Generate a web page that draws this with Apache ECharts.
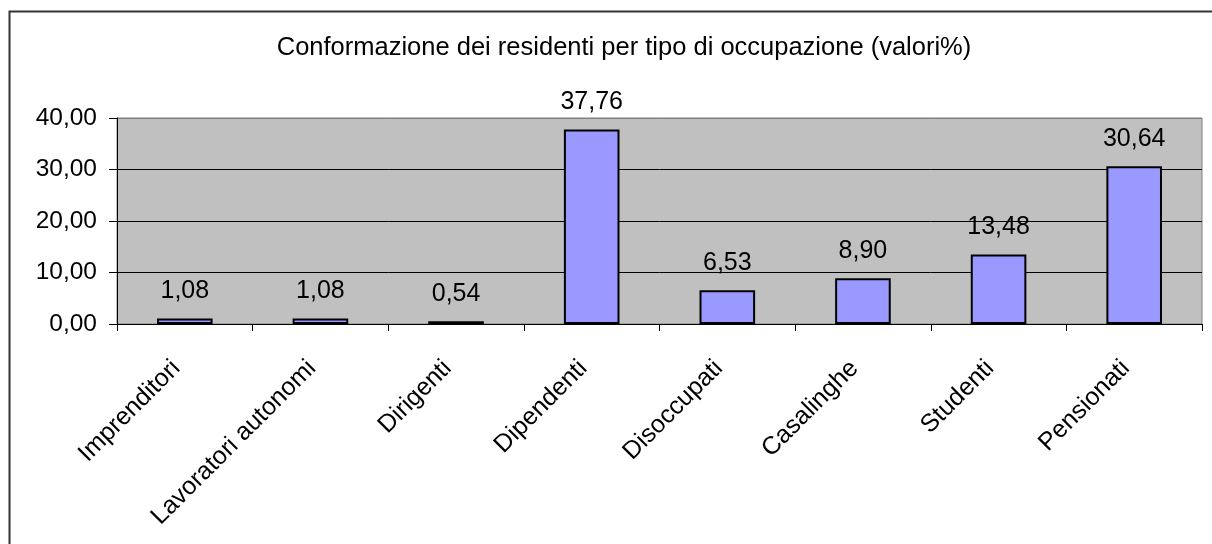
<!DOCTYPE html>
<html>
<head>
<meta charset="utf-8">
<script src="https://cdn.jsdelivr.net/npm/echarts@6/dist/echarts.min.js"></script>
<style>
    html, body { margin: 0; padding: 0; background: #fff; }
    #chart-container { width: 1212px; height: 544px; }
</style>
</head>
<body>
<div id="chart-container"></div>
<script>
var categories = ['Imprenditori', 'Lavoratori autonomi', 'Dirigenti', 'Dipendenti',
    'Disoccupati', 'Casalinghe', 'Studenti', 'Pensionati'];
var values = [1.08, 1.08, 0.54, 37.76, 6.53, 8.90, 13.48, 30.64];
var yTicks = [0, 10, 20, 30, 40];

var FONT = '"Liberation Sans", Arial, sans-serif';

function fmt(v) {
    return Number(v).toFixed(2).replace('.', ',');
}

var chart = echarts.init(document.getElementById('chart-container'));

var option = {
    animation: false,
    backgroundColor: '#fff',
    title: {
        text: 'Conformazione dei residenti per tipo di occupazione (valori%)',
        left: 619,
        top: 30,
        textAlign: 'center',
        textStyle: { fontFamily: FONT, fontSize: 25.5, fontWeight: 'normal', color: '#000' }
    },
    graphic: [{
        type: 'rect',
        shape: { x: 9.5, y: 11.5, width: 1240, height: 560 },
        style: { fill: 'none', stroke: '#333', lineWidth: 2 },
        silent: true
    }],
    grid: {
        left: 117,
        right: 10,
        top: 118,
        bottom: 220,
        show: true,
        backgroundColor: '#c0c0c0',
        borderColor: '#808080',
        borderWidth: 1
    },
    xAxis: {
        type: 'category',
        data: categories,
        axisLine: { lineStyle: { color: '#000', width: 1 } },
        axisTick: { show: true, length: 7, lineStyle: { color: '#000' } },
        axisLabel: {
            rotate: 45,
            interval: 0,
            margin: 32,
            padding: [0, 12, 0, 0],
            fontFamily: FONT,
            fontSize: 25,
            color: '#000'
        }
    },
    yAxis: {
        type: 'value',
        min: yTicks[0],
        max: yTicks[yTicks.length - 1],
        interval: 10,
        axisLine: { show: true, lineStyle: { color: '#000', width: 1 } },
        axisTick: { show: true, length: 8, lineStyle: { color: '#000' } },
        splitLine: { show: true, lineStyle: { color: ['#000', '#000', '#000', '#000', '#808080'], width: 1 } },
        axisLabel: {
            margin: 20,
            fontFamily: FONT,
            fontSize: 24.5,
            color: '#000',
            formatter: fmt
        }
    },
    series: [{
        type: 'bar',
        data: values,
        barWidth: '41%',
        itemStyle: { color: '#9999ff', borderColor: '#000', borderWidth: 2 },
        label: {
            show: true,
            position: 'top',
            distance: 15,
            fontFamily: FONT,
            fontSize: 25,
            color: '#000',
            formatter: function (p) { return fmt(p.value); }
        }
    }]
};

chart.setOption(option);
</script>
</body>
</html>
